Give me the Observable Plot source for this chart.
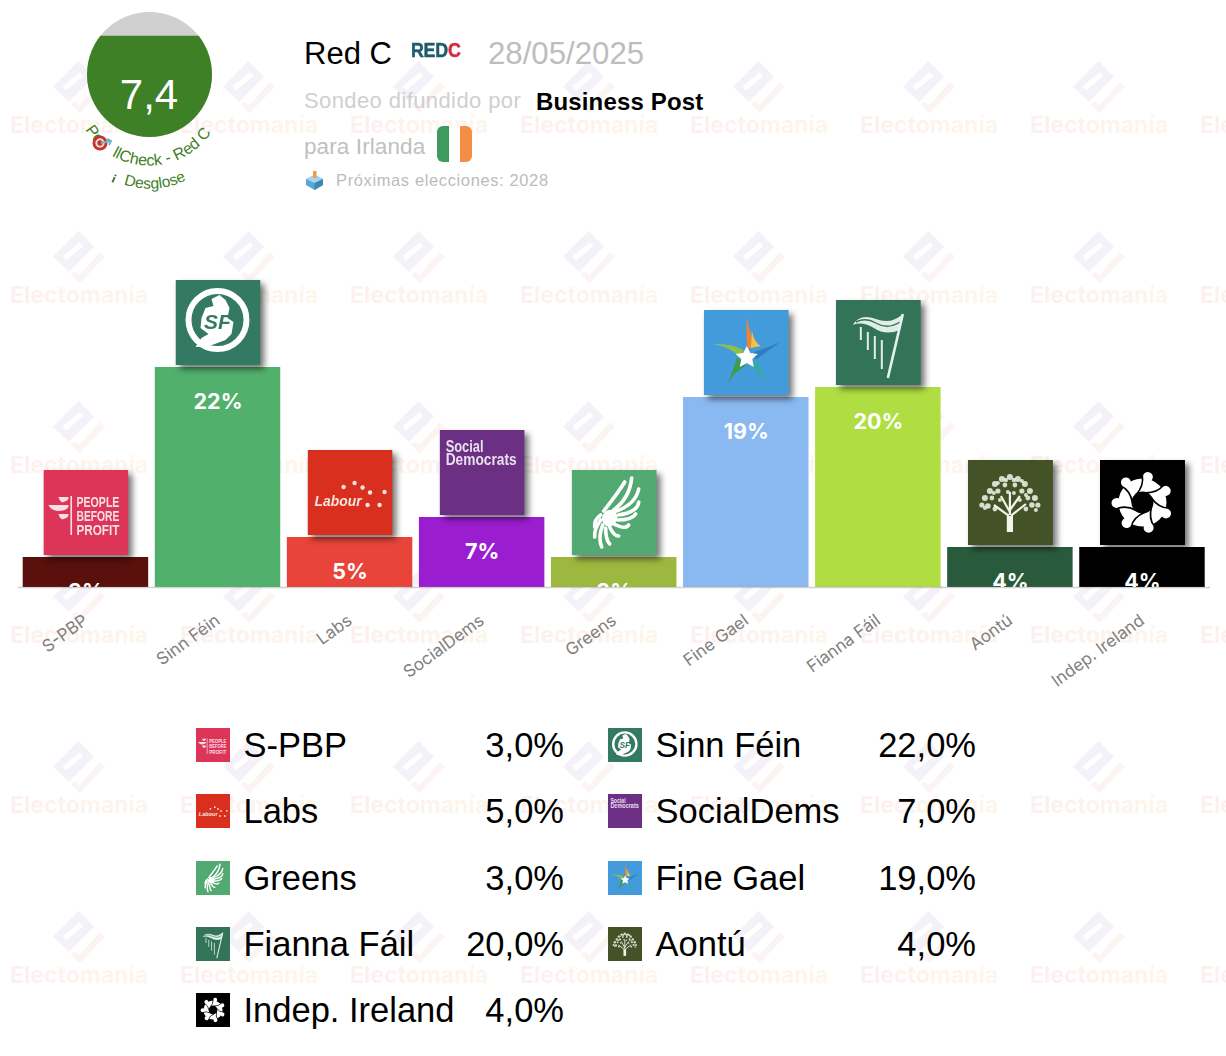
<!DOCTYPE html>
<html lang="es">
<head>
<meta charset="utf-8">
<title>Red C 28/05/2025</title>
<script src="https://cdn.jsdelivr.net/npm/d3@7"></script>
<script src="https://cdn.jsdelivr.net/npm/@observablehq/plot@0.6"></script>
<style>
  html,body{margin:0;padding:0;background:#fff;}
  #page{position:relative;width:1226px;height:1056px;overflow:hidden;font-family:"Liberation Sans",Arial,sans-serif;}
  #watermark,#arc{position:absolute;left:0;top:0;}
  #header{position:relative;height:220px;}
  #header>*{position:absolute;white-space:nowrap;line-height:1;}
  #gauge{left:86.5px;top:12px;width:125px;height:125px;}
  #gauge svg{border-radius:50%;display:block;}
  #chart{position:relative;height:480px;}
  #chart svg{display:block;overflow:visible;}
  #chart image{filter:drop-shadow(4px 4px 3px rgba(0,0,0,.55));}
  #legend{position:relative;display:grid;grid-template-columns:412px 412px;grid-auto-rows:66.3px;padding:12px 0 0 196px;}
  .item{position:relative;height:66.3px;}
  .item img{position:absolute;left:0;top:16px;width:34px;height:34px;}
  .item .n{position:absolute;left:47.5px;top:14px;font-size:34.5px;line-height:38px;color:#000;white-space:nowrap;}
  .item .v{position:absolute;right:44px;top:14px;font-size:34.5px;line-height:38px;color:#000;white-space:nowrap;}
</style>
</head>
<body>
<div id="page">
  <svg id="watermark" width="1226" height="1056"></svg>
  <div id="header">
    <div id="gauge"></div>
    <div style="left:304px;top:38px;font-size:31px;color:#000">Red C</div>
    <div style="left:411px;top:40px;font-size:20.5px;font-weight:700;color:#1c5c6c;transform:scaleX(.87);transform-origin:0 0;letter-spacing:-.3px;-webkit-text-stroke:.5px #1c5c6c">RED<span style="color:#d8283f;-webkit-text-stroke:.5px #d8283f">C</span></div>
    <div style="left:488px;top:38px;font-size:31.2px;color:#bdbdbd">28/05/2025</div>
    <div style="left:304px;top:90px;font-size:22px;color:#cfcfcf;letter-spacing:.4px">Sondeo difundido por</div>
    <div style="left:536px;top:90px;font-size:24px;font-weight:700;color:#000;letter-spacing:.15px">Business Post</div>
    <div style="left:304px;top:136px;font-size:22.5px;color:#c0c0c0;letter-spacing:.1px">para Irlanda</div>
    <svg style="left:437px;top:126px" width="35" height="36" viewBox="0 0 35 36">
      <defs><clipPath id="fl"><rect width="35" height="36" rx="6"/></clipPath></defs>
      <g clip-path="url(#fl)"><rect width="12" height="36" fill="#3f9a60"/><rect x="12" width="11" height="36" fill="#fff"/><rect x="23" width="12" height="36" fill="#f58e45"/></g>
    </svg>
    <svg style="left:305px;top:170px" width="19" height="20" viewBox="0 0 19 20">
      <path d="M9.5 5 L18 9 L18 15 L9.5 20 L1 15 L1 9 Z" fill="#5ba6d6"/>
      <path d="M9.5 5 L18 9 L9.5 13 L1 9 Z" fill="#a9d3ee"/>
      <path d="M9.5 13 L18 9 L18 15 L9.5 20 Z" fill="#3f86b8"/>
      <rect x="8" y="1" width="3.5" height="7" fill="#e6a14a"/>
    </svg>
    <div style="left:336px;top:172px;font-size:16.5px;color:#bcbcbc;letter-spacing:.62px">Próximas elecciones: 2028</div>
  </div>
  <div id="chart"></div>
  <div id="legend"></div>
  <svg id="arc" width="300" height="210" style="pointer-events:none">
    <defs>
      <path id="arc1" d="M 80 120 A 75 75 0 0 0 218 120"/>
      <path id="arc2" d="M 110 178 A 80 80 0 0 0 190 178"/>
    </defs>
    <text font-family="Liberation Sans, Arial, sans-serif" font-size="16" fill="#3d8026"><textPath href="#arc1" startOffset="11">Po<tspan dx="18">llCheck - Red C</tspan></textPath></text>
    <text font-family="Liberation Sans, Arial, sans-serif" font-size="15.5" fill="#3d8026"><textPath href="#arc2" startOffset="15">Desglose</textPath></text>
    <text x="112" y="183" font-family="Liberation Serif, serif" font-style="italic" font-weight="700" font-size="12" fill="#2c5f1c" transform="rotate(15 115 180)">i</text>
    <g>
      <circle cx="100" cy="143" r="7.5" fill="#c0352f"/><circle cx="100" cy="143" r="4.7" fill="#f3d9d2"/><circle cx="100" cy="143" r="2.7" fill="#c0352f"/>
      <path d="M101 143 L110 141 M107 139 L111 141 L109 145" stroke="#6fb6c8" stroke-width="2" fill="none"/>
    </g>
  </svg>
</div>
<script>
// ---------- data ----------
const parties = ["S-PBP","Sinn Féin","Labs","SocialDems","Greens","Fine Gael","Fianna Fáil","Aontú","Indep. Ireland"];
const values  = [3,22,5,7,3,19,20,4,4];
const barColors = ["#5a100c","#52b06d","#e8443a","#9b1dd0","#9cb83f","#8ab8f0","#b0de42","#2a5a3c","#000000"];
const score = 7.4;
const gaugeLevel = 0.81;
const gaugeGreen = "#3d8026";
const gaugeGrey = "#d0d0d0";
const wmCols = d3.range(-1,8);
const wmRows = d3.range(0,6);

// ---------- party logos (small drawn icons) ----------
const F = 'font-family="Liberation Sans,Arial,sans-serif"';
const sq = c => `<rect width="85" height="85" fill="${c}"/>`;
const spbpLogo = sq("#dc3558") + `<g fill="#f6dfe4"><path d="M15 27H25V29Q22 33 18 32Q16 31 15 27Z"/><path d="M5 35H25V37Q23 41 14 41Q7 40 5 35Z"/><path d="M15 44H25V46Q22 50 18 49Q16 48 15 44Z"/><rect x="27" y="26" width="1.6" height="39"/><g ${F} font-weight="700" font-size="15.5"><text x="33" y="37" textLength="43" lengthAdjust="spacingAndGlyphs">PEOPLE</text><text x="33" y="51" textLength="43" lengthAdjust="spacingAndGlyphs">BEFORE</text><text x="33" y="65" textLength="43" lengthAdjust="spacingAndGlyphs">PROFIT</text></g></g>`;
const sfLogo = sq("#347a63") + `<circle cx="42" cy="40" r="29" fill="none" stroke="#fff" stroke-width="6"/><path d="M26 38L30 28L38 26L36 19L44 15L50 20L54 28L52 38L58 42L56 54L50 60L34 66L20 67L26 58L33 54L25 48Z" fill="#fff"/><text x="42" y="49" text-anchor="middle" ${F} font-style="italic" font-weight="700" font-size="21" fill="#347a63">SF</text>`;
const labourDots = [[36,37],[47,33],[55,37.5],[62.5,42.5],[77,42],[60,55],[72,55]];
const labourLogo = sq("#d92f1f") + `<text x="7" y="56" ${F} font-style="italic" font-weight="700" font-size="15.5" fill="#f8e3df" textLength="47" lengthAdjust="spacingAndGlyphs">Labour</text>` + labourDots.map(([x,y])=>`<circle cx="${x}" cy="${y}" r="2.2" fill="#f8e3df"/>`).join("");
const socialLogo = sq("#6b3084") + `<g ${F} font-weight="700" font-size="17" fill="#e9dfef"><text x="6" y="22" textLength="38" lengthAdjust="spacingAndGlyphs">Social</text><text x="6" y="35" textLength="71" lengthAdjust="spacingAndGlyphs">Democrats</text></g>`;
const greenFeathers = [["M42 40Q58 28 60 8"],["M45 41Q64 34 67 19"],["M47 45Q66 42 67 32"],["M46 50Q60 50 64 44"],["M42 54Q54 60 57 55"],["M38 57Q42 66 47 66"],["M34 58Q34 70 38 74"],["M31 55Q26 68 30 77"],["M29 50Q22 60 23 67"],["M29 45Q22 50 23 57"],["M32 41Q47 22 53 12"]];
const greensLogo = sq("#52a972") + `<ellipse cx="38" cy="48" rx="7.5" ry="8.5" fill="#fff" transform="rotate(25 38 48)"/>` + greenFeathers.map(([d])=>`<path d="${d}" fill="none" stroke="#fff" stroke-width="3.6" stroke-linecap="round"/>`).join("");
const fgLogo = sq("#449bdc") + `<path d="M43 7Q42 28 44 40L52 34Q46 25 43 7Z" fill="#e7873a"/><path d="M48 20Q48 30 47 38L57 36Q50 32 48 20Z" fill="#f3c04a"/><path d="M9 34Q28 33 40 40L37 48Q25 36 9 34Z" fill="#8cc04a"/><path d="M77 32Q62 38 50 42L52 50Q62 42 77 32Z" fill="#2f7fc0"/><path d="M23 75Q30 60 33 47L42 56Q30 62 23 75Z" fill="#3f9a52"/><path d="M65 74Q55 64 47 55L54 50Q56 62 65 74Z" fill="#35aaa0"/><path d="M43 36L46.5 43L54 44L48.5 49L50 57L43 53L36 57L37.5 49L32 44L39.5 43Z" fill="#fff"/>`;
const ffStrings = [[25,27,40],[32,32,50],[39,36,59],[46,40,69]];
const ffLogo = sq("#337459") + `<path d="M17 25Q24 13 40 19Q55 25 67 14L64 30Q50 36 38 28Q26 21 17 25Z" fill="#dfeee8"/><path d="M20 22Q30 17 40 23Q52 30 64 22" fill="none" stroke="#337459" stroke-width="1.4"/><path d="M67 14L52 78" stroke="#e6f0ec" stroke-width="2.6" fill="none"/>` + ffStrings.map(([x,a,b])=>`<path d="M${x} ${a}V${b}" stroke="#dfeee8" stroke-width="2"/>`).join("");
const treeLeaves = [[42,17,3],[34,19,3],[50,19,3],[27,24,3],[57,24,3],[22,31,3],[62,31,3],[37,25,2.4],[47,25,2.4],[30,31,2.6],[54,31,2.6],[17,38,3],[67,38,3],[24,38,2.4],[60,38,2.4],[14,45,2.6],[70,45,2.6],[20,46,2.8],[64,45,2.8],[40,32,2],[46,33,2],[27,49,2.4],[58,49,2.4],[32,40,2],[52,40,2],[30,23,2],[54,21,2],[38,20,2.2],[46,20,2.2],[26,33,2],[58,35,2],[17,48,2],[68,50,2]];
const aontuLogo = sq("#445227") + treeLeaves.map(([x,y,r])=>`<circle cx="${x}" cy="${y}" r="${r}" fill="#e8ebdf" opacity=".9"/>`).join("") + `<path d="M40 72V55L26 45M42 55L42 32M44 72V55L58 44M42 52L33 36M42 50L52 36" fill="none" stroke="#f2f4ec" stroke-width="2.2"/><path d="M39.5 72H45V56H39.5Z" fill="#f2f4ec"/>`;
const iiAngles = d3.range(7).map(i=>i*360/7+12);
const iiLogo = sq("#000") + `<g transform="translate(42.5 42.5)"><circle r="24" fill="#fff"/>` + iiAngles.map(a=>`<g transform="rotate(${a})"><circle cy="-26" r="5" fill="#fff"/><path d="M0 -10Q12 -12 17 -21" fill="none" stroke="#000" stroke-width="1.7"/></g>`).join("") + `<circle r="11" fill="#000"/></g>`;
const logoBodies = [spbpLogo,sfLogo,labourLogo,socialLogo,greensLogo,fgLogo,ffLogo,aontuLogo,iiLogo];
const logoSrc = logoBodies.map(b=>"data:image/svg+xml;utf8,"+encodeURIComponent(`<svg xmlns="http://www.w3.org/2000/svg" width="255" height="255" viewBox="0 0 85 85">${b}</svg>`));

const rows = parties.map((party,i)=>({party,value:values[i],color:barColors[i],src:logoSrc[i]}));
const comma = v => v.toFixed(1).replace(".",",");

// ---------- watermark ----------
const wm = d3.select("#watermark");
const grad = wm.append("defs").append("linearGradient").attr("id","wmg");
grad.append("stop").attr("offset","0").attr("stop-color","#fcf0f0");
grad.append("stop").attr("offset","1").attr("stop-color","#fdf6ec");
for (const r of wmRows) for (const c of wmCols) {
  const g = wm.append("g").attr("transform",`translate(${79+170*c} ${170*r})`);
  g.append("path").attr("d","M-.3 61L15 76.7L-10 101.7L-26 86.7Z M-16.3 86L-13 90.7L4.3 76L1 72.3Z").attr("fill","#f5f1f8").attr("fill-rule","evenodd");
  g.append("path").attr("d","M21 82.3L26 86.7L.3 113.3L-8.3 104L-3.3 101.7L.3 105Z").attr("fill","#fcf3f3");
  g.append("text").attr("y",133).attr("text-anchor","middle").attr("font-family","Inter, Roboto, sans-serif").attr("font-weight",700).attr("font-size",23).attr("fill","url(#wmg)").text("Electomanía");
}

// ---------- gauge ----------
document.getElementById("gauge").append(Plot.plot({
  width:125,height:125,margin:0,
  style:{background:gaugeGrey},
  x:{domain:[0,1],axis:null},
  y:{domain:[0,1],axis:null},
  marks:[
    Plot.rect([gaugeLevel],{x1:0,x2:1,y1:0,y2:d=>d,fill:gaugeGreen}),
    Plot.text([score],{text:comma,frameAnchor:"middle",dx:-1,dy:21,fill:"#fff",fontSize:42,fontFamily:"Liberation Sans, Arial, sans-serif"})
  ]
}));

// ---------- bar chart ----------
document.getElementById("chart").append(Plot.plot({
  width:1226,height:480,
  marginLeft:18,marginRight:16,marginTop:0,marginBottom:113,
  style:{background:"transparent",overflow:"visible"},
  x:{type:"band",domain:parties,range:[22.7,1204.7],paddingInner:0.05,paddingOuter:0,round:false,label:null},
  y:{domain:[0,22],range:[367,147],axis:null},
  marks:[
    Plot.barY(rows,{x:"party",y:"value",fill:"color"}),
    Plot.ruleY([0],{stroke:"#9a9a9a",strokeOpacity:.45,strokeWidth:1.5}),
    Plot.text(rows,{x:"party",y:"value",text:d=>d.value+"%",dy:35,fill:"#fff",fontSize:21.5,fontWeight:700,fontFamily:"Inter, Roboto, sans-serif",clip:"frame"}),
    Plot.image(rows,{x:"party",y:"value",src:"src",width:85,height:85,dy:-45,preserveAspectRatio:"none"}),
    Plot.axisX({tickSize:0,tickPadding:31,tickRotate:-36,fontSize:17,fill:"#808080",label:null,fontFamily:"Inter, Roboto, sans-serif"})
  ]
}));

// ---------- legend ----------
const lg = d3.select("#legend");
rows.forEach(d=>{
  const it = lg.append("div").attr("class","item");
  it.append("img").attr("src",d.src).attr("alt","");
  it.append("span").attr("class","n").text(d.party);
  it.append("span").attr("class","v").text(comma(d.value)+"%");
});
</script>
</body>
</html>
